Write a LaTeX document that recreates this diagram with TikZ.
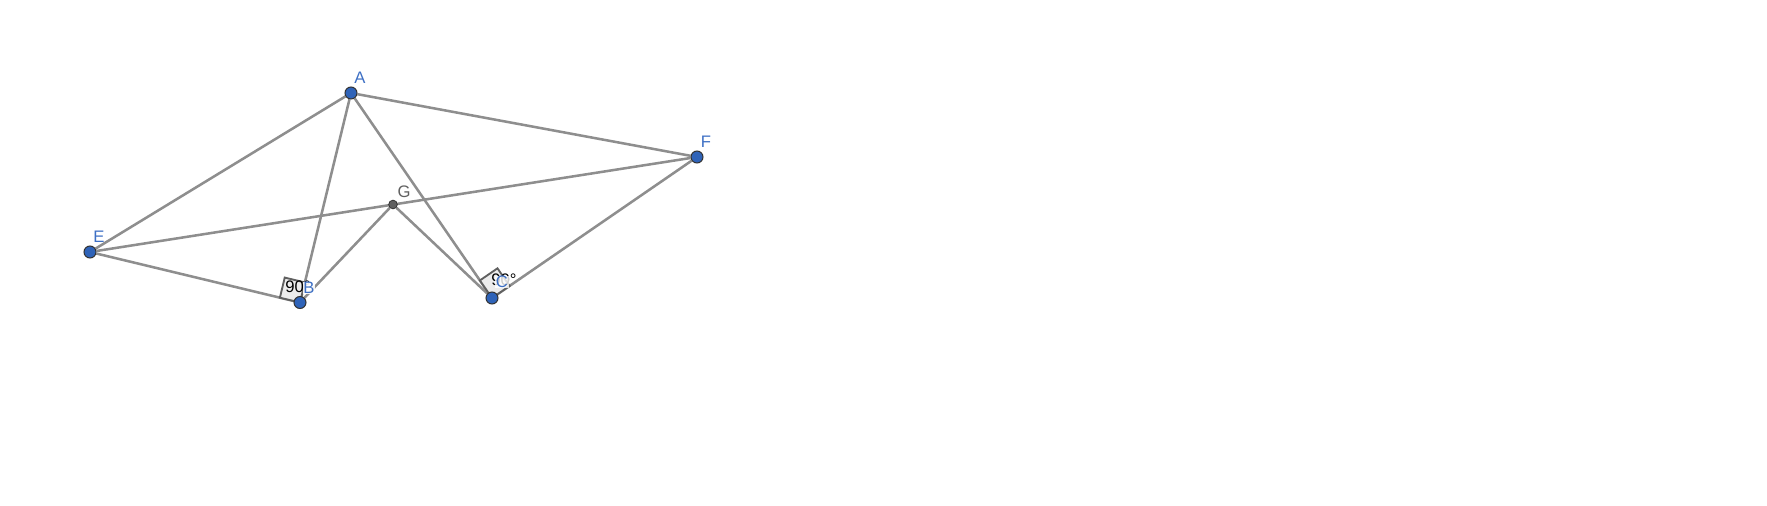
\documentclass[tikz,border=0pt]{standalone}
\usepackage{fontspec}
\setmainfont{Liberation Sans}
\usetikzlibrary{positioning,backgrounds,calc}
\definecolor{ptblue}{RGB}{47,99,184}
\definecolor{lblblue}{RGB}{61,111,196}
\definecolor{seggray}{RGB}{142,142,142}
\definecolor{ptgray}{RGB}{96,96,96}
\definecolor{markgray}{RGB}{236,236,236}

\begin{document}
\begin{tikzpicture}[
    x=0.75pt, y=-0.75pt,
    ptblk/.style={circle, draw=black!80, fill=ptblue, line width=0.75pt,
                  minimum size=9pt, inner sep=0pt},
    ptgry/.style={circle, draw=black!80, fill=ptgray, line width=0.6pt,
                  minimum size=6.5pt, inner sep=0pt},
    seg/.style={draw=seggray, line width=1.9pt},
    lbl/.style={font=\fontsize{12.5}{12.5}\selectfont, text=lblblue, inner sep=0.4pt},
    anglelbl/.style={font=\fontsize{12.5}{12.5}\selectfont, text=black, inner sep=0pt},
    rmark/.style={draw=ptgray, fill=markgray, line width=1.4pt},
]
\useasboundingbox (0,0) rectangle (1767,506);

\node[ptblk] (A) at (351,93) {};
\node[ptblk] (B) at (300,302.5) {};
\node[ptblk] (C) at (492,298) {};
\node[ptblk] (E) at (90,252) {};
\node[ptblk] (F) at (697,157) {};
\node[ptgry] (G) at (393,204.5) {};

\begin{scope}[on background layer]
\draw[seg] (A) -- (E);
\draw[seg] (A) -- (B);
\draw[seg] (A) -- (C);
\draw[seg] (A) -- (F);
\draw[seg] (E) -- (B);
\draw[seg] (E) -- (F);
\draw[seg] (F) -- (C);
\draw[seg] (G) -- (B);
\draw[seg] (G) -- (C);
% right angle marks
\draw[rmark] (B.center) -- ($(B.center)!15.5pt!(E.center)$)
    -- ($(B.center)!15.5pt!(E.center)!15.5pt!90:(B.center)$)
    -- ($(B.center)!15.5pt!(A.center)$) -- cycle;
\draw[rmark] (C.center) -- ($(C.center)!16pt!(A.center)$)
    -- ($(C.center)!16pt!(A.center)!16pt!90:(C.center)$)
    -- ($(C.center)!16pt!(F.center)$) -- cycle;
\end{scope}

\node[anglelbl] (angB) at (298,287) {90°};
\node[anglelbl] (angC) at (504,280) {90°};

\node[lbl] (lblA) at (360,78) {A};
\node[lbl, fill=white, fill opacity=0.9, text opacity=1] (lblB) at (309,288) {B};
\node[lbl, fill=white, fill opacity=0.8, text opacity=1] (lblC) at (502,282) {C};
\node[lbl] (lblE) at (99,237) {E};
\node[lbl] (lblF) at (706,142) {F};
\node[lbl, text=ptgray] (lblG) at (404,192) {G};
\end{tikzpicture}
\end{document}
